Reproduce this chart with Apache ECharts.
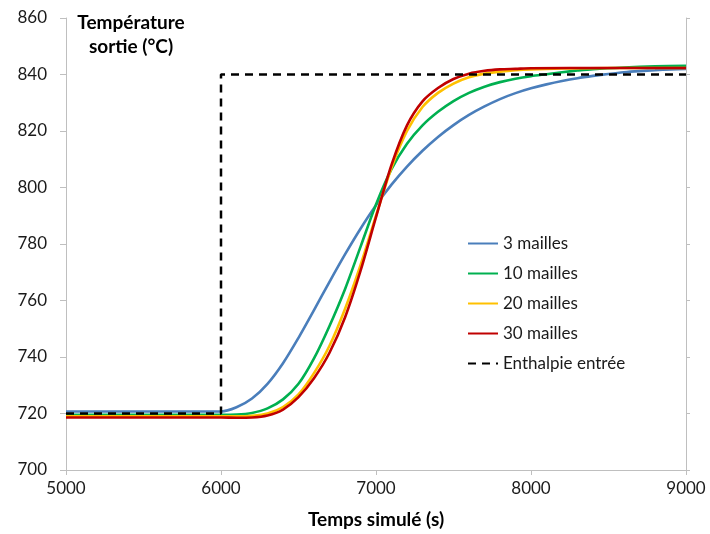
<!DOCTYPE html>
<html>
<head>
<meta charset="utf-8">
<script src="https://cdn.jsdelivr.net/npm/echarts@6/dist/echarts.min.js"></script>
<style>
html,body{margin:0;padding:0;background:#fff;}
#chart{width:710px;height:534px;}
</style>
</head>
<body>
<div id="chart"></div>
<script>
// ---- Data ----
const seriesNames = ['3 mailles', '10 mailles', '20 mailles', '30 mailles', 'Enthalpie entrée'];
const xTicks = [5000, 6000, 7000, 8000, 9000];
const yTicks = [700, 720, 740, 760, 780, 800, 820, 840, 860];

const t3 = [5000, 5500, 6000, 6100, 6200, 6300, 6400, 6500, 6600, 6700, 6800, 6900, 7000, 7100, 7200, 7300, 7400, 7500, 7600, 7700, 7800, 7900, 8000, 8100, 8200, 8300, 8400, 8500, 8600, 8700, 8800, 8900, 9000];
const v3 = [720.7, 720.7, 720.7, 722.2, 725.3, 730.5, 737.8, 746.8, 756.6, 766.6, 776.3, 785.4, 793.7, 801.0, 807.4, 813.0, 817.9, 822.1, 825.7, 828.7, 831.3, 833.4, 835.1, 836.5, 837.7, 838.7, 839.5, 840.2, 840.8, 841.2, 841.5, 841.8, 842.0];

const t10 = [5000, 5500, 6000, 6100, 6200, 6300, 6400, 6500, 6600, 6700, 6800, 6900, 7000, 7100, 7200, 7300, 7400, 7500, 7600, 7700, 7800, 7900, 8000, 8100, 8200, 8300, 8400, 8600, 8800, 9000];
const v10 = [719.5, 719.5, 719.5, 719.6, 720.2, 721.8, 725.0, 730.5, 739.5, 751.0, 764.0, 779.0, 794.0, 806.5, 815.5, 822.0, 826.8, 830.6, 833.5, 835.7, 837.3, 838.5, 839.4, 840.1, 840.8, 841.4, 841.9, 842.5, 842.9, 843.1];

const t20 = [5000, 5500, 6000, 6100, 6200, 6300, 6400, 6500, 6600, 6700, 6800, 6900, 7000, 7100, 7200, 7300, 7400, 7500, 7600, 7700, 7800, 7900, 8000, 8200, 8500, 9000];
const v20 = [719.0, 719.0, 719.0, 719.0, 719.2, 720.0, 722.3, 726.8, 734.3, 744.0, 757.0, 772.5, 790.0, 807.0, 820.0, 828.5, 833.5, 836.8, 839.0, 840.3, 841.0, 841.5, 841.8, 842.1, 842.3, 842.3];

const t30 = [5000, 5500, 6000, 6100, 6200, 6300, 6400, 6500, 6600, 6700, 6800, 6900, 7000, 7100, 7200, 7300, 7400, 7500, 7600, 7700, 7800, 7900, 8000, 8500, 9000];
const v30 = [718.6, 718.6, 718.6, 718.5, 718.6, 719.3, 721.4, 725.8, 732.5, 741.5, 754.0, 770.5, 789.5, 808.0, 822.0, 830.5, 835.2, 838.4, 840.3, 841.3, 841.8, 842.0, 842.2, 842.3, 842.3];

const tEnth = [5000, 6000, 6000, 9000];
const vEnth = [720, 720, 840, 840];

// ---- Styles ----
const colors = ['#4A7EBB', '#00B050', '#FFC000', '#C00000', '#000000'];
const FONT = 'Lato, "Open Sans", sans-serif';
const axisGray = '#BFBFBF';

function pairs(t, v) { return t.map((x, i) => [x, v[i]]); }

const dataSets = [pairs(t3, v3), pairs(t10, v10), pairs(t20, v20), pairs(t30, v30), pairs(tEnth, vEnth)];

const series = dataSets.map((d, i) => {
  const isDash = i === 4;
  return {
    name: seriesNames[i],
    type: 'line',
    data: d,
    symbol: 'none',
    smooth: isDash ? false : 0.3,
    lineStyle: {
      color: colors[i],
      width: isDash ? 2.5 : 2.6,
      type: isDash ? [8, 6] : 'solid'
    },
    itemStyle: { color: colors[i] },
    z: 2 + i
  };
});

const chart = echarts.init(document.getElementById('chart'), null, { renderer: 'canvas' });
chart.setOption({
  animation: false,
  backgroundColor: '#ffffff',
  grid: { left: 66, right: 24, top: 18, bottom: 62, containLabel: false },
  legend: {
    orient: 'vertical',
    left: 462,
    top: 230,
    itemWidth: 30,
    itemHeight: 14,
    itemGap: 13,
    data: seriesNames,
    itemStyle: { opacity: 0 },
    textStyle: { fontFamily: FONT, fontSize: 17, color: '#1a1a1a' },
    selectedMode: false
  },
  xAxis: {
    type: 'value',
    min: xTicks[0],
    max: xTicks[xTicks.length - 1],
    interval: 1000,
    name: 'Temps simulé (s)',
    nameLocation: 'middle',
    nameGap: 40,
    nameTextStyle: { fontFamily: FONT, fontSize: 19, fontWeight: 'bold', color: '#000' },
    axisLine: { show: true, lineStyle: { color: axisGray, width: 1 } },
    axisTick: { show: true, inside: false, length: 5, lineStyle: { color: axisGray } },
    axisLabel: { fontFamily: FONT, fontSize: 17, color: '#1a1a1a', margin: 10, formatter: v => String(v) },
    splitLine: { show: false }
  },
  yAxis: [{
    type: 'value',
    min: yTicks[0],
    max: yTicks[yTicks.length - 1],
    interval: 20,
    axisLine: { show: true, lineStyle: { color: axisGray, width: 1 } },
    axisTick: { show: true, inside: false, length: 6, lineStyle: { color: axisGray } },
    axisLabel: { fontFamily: FONT, fontSize: 17, color: '#1a1a1a', margin: 19, formatter: v => String(v) },
    splitLine: { show: false }
  }, {
    type: 'value',
    position: 'right',
    min: yTicks[0],
    max: yTicks[yTicks.length - 1],
    interval: 20,
    axisLine: { show: true, lineStyle: { color: axisGray, width: 1 } },
    axisTick: { show: true, inside: false, length: 4, lineStyle: { color: axisGray } },
    axisLabel: { show: false },
    splitLine: { show: false }
  }],
  graphic: [{
    type: 'text',
    x: 131,
    y: 35,
    style: {
      text: 'Température\nsortie (°C)',
      align: 'center',
      verticalAlign: 'middle',
      font: 'bold 19px ' + FONT,
      lineHeight: 24,
      fill: '#000'
    }
  }],
  series: series
});
</script>
</body>
</html>
